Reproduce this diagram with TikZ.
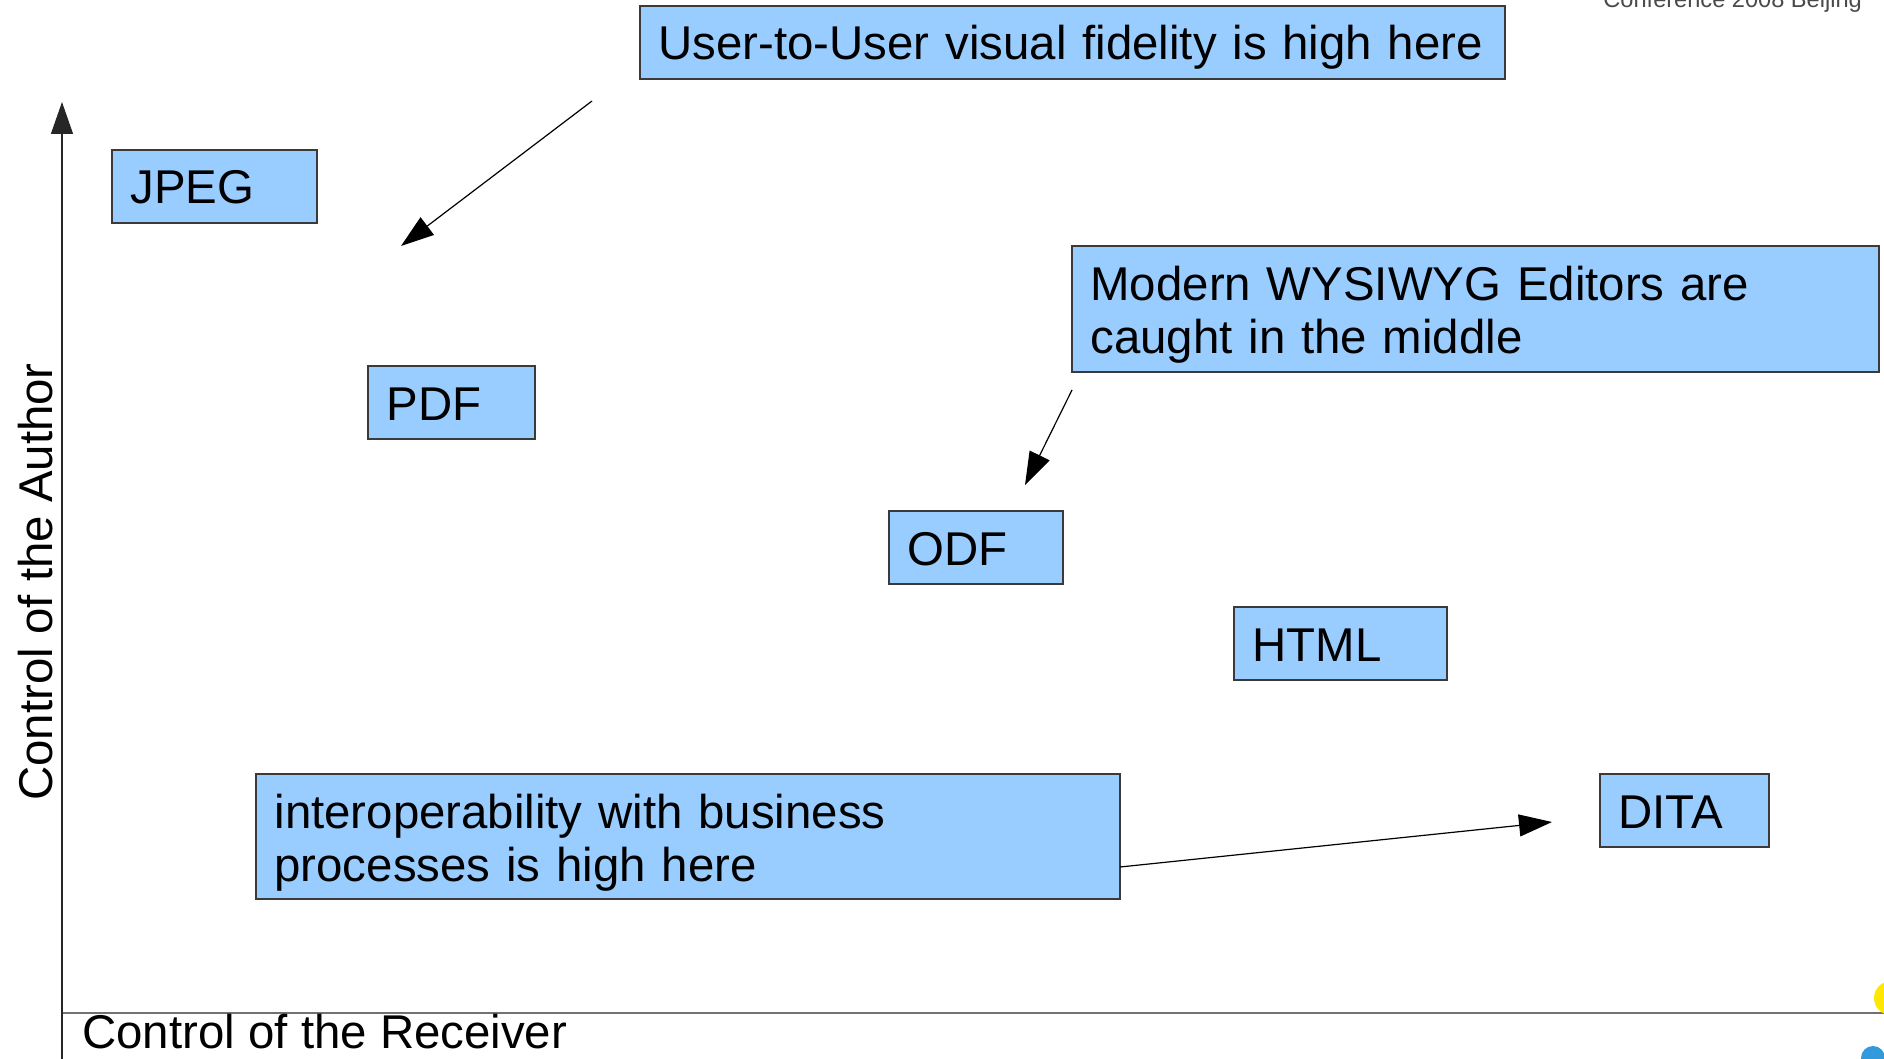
\documentclass[tikz,border=0pt]{standalone}
\usepackage{fontspec}
\setmainfont{Liberation Sans}
\usetikzlibrary{arrows.meta}
\definecolor{boxfill}{HTML}{99CCFF}
\definecolor{boxline}{HTML}{3A3A3A}
\definecolor{axisgray}{HTML}{727272}
\definecolor{confgray}{HTML}{4A4A4A}
\definecolor{logoyellow}{HTML}{FFE800}
\definecolor{logoblue}{HTML}{3399DD}
\tikzset{
  bigfont/.style={font=\fontsize{23.7}{26.5}\selectfont},
  infobox/.style={bigfont, draw=boxline, fill=boxfill, line width=0.7pt,
    anchor=north west, outer sep=0pt, inner xsep=9.25pt, inner ysep=0pt,
    align=left, text height=27pt, text depth=9.5pt},
  twoline/.style={text depth=#1},
  plainlabel/.style={bigfont, inner sep=0pt, anchor=base west},
  pointer/.style={line width=0.6pt, draw=black,
    -{Triangle[length=16.5pt,width=11pt]}},
  yaxisline/.style={line width=0.6pt, draw=black!85,
    -{Triangle[length=16pt,width=11pt]}},
  xaxisline/.style={line width=0.8pt, draw=axisgray}
}
\begin{document}
\begin{tikzpicture}[x=0.5pt,y=-0.5pt]
\useasboundingbox (0,0) rectangle (1884,1059);
\fill[white] (0,0) rectangle (1884,1059);

% axes
\coordinate (ybot) at (62,1059);
\coordinate (ytop) at (62,102);
\coordinate (xorg) at (62,1013);
\coordinate (xend) at (1884,1013);
\draw[xaxisline] (xorg) -- (xend);
\draw[yaxisline] (ybot) -- (ytop);

% axis labels
\node[plainlabel, rotate=90] (ylab) at (52,801) {Control of the Author};
\node[plainlabel] (xlab) at (82,1048) {Control of the Receiver};

% boxes
\node[infobox, text width=414pt] (top) at (640,6) {\mbox{User-to-User visual fidelity is high here}};
\node[infobox, text width=84pt] (jpeg) at (112,150) {JPEG};
\node[infobox, text width=385pt, twoline=36pt] (modern) at (1072,246) {Modern WYSIWYG Editors are\\caught in the middle};
\node[infobox, text width=65pt] (pdf) at (368,366) {PDF};
\node[infobox, text width=68.5pt] (odf) at (889,511) {ODF};
\node[infobox, text width=88pt] (html) at (1234,607) {HTML};
\node[infobox, text width=413.5pt, twoline=35.5pt] (interop) at (256,774) {interoperability with business\\processes is high here};
\node[infobox, text width=66pt] (dita) at (1600,774) {DITA};

% pointers
\coordinate (a1s) at (592,101);
\coordinate (a1e) at (401,246);
\coordinate (a2s) at (1072,390);
\coordinate (a2e) at (1025,485);
\coordinate (a3s) at (1120,867);
\coordinate (a3e) at (1552,822);
\draw[pointer] (a1s) -- (a1e);
\draw[pointer] (a2s) -- (a2e);
\draw[pointer] (a3s) -- (a3e);

% cut-off header text and logo fragments
\node[inner sep=0pt, anchor=base west, text=confgray, font=\fontsize{11.8}{14}\selectfont] (conf) at (1603,8) {Conference 2008 Beijing};
\fill[logoyellow] (1891,998) circle (17);
\fill[logoblue] (1873,1058) circle (12);
\end{tikzpicture}
\end{document}
